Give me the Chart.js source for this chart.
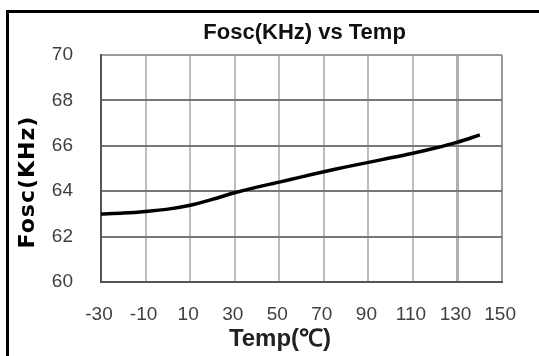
<!DOCTYPE html>
<html>
<head>
<meta charset="utf-8">
<script src="https://cdn.jsdelivr.net/npm/chart.js@4/dist/chart.umd.min.js"></script>
<style>
  html, body { margin: 0; padding: 0; background: #ffffff; }
  canvas { display: block; }
</style>
</head>
<body>
<canvas id="c" width="539" height="356"></canvas>
<script>
// ---- data ----
const chartTitle = "Fosc(KHz) vs Temp";
const xTitle = "Temp(\u2103)";
const yTitle = "Fosc(KHz)";
const temps = [-30, -20, -10, 0, 10, 20, 30, 40, 50, 60, 70, 80, 90, 100, 110, 120, 130, 140];
const fosc  = [63.0, 63.04, 63.11, 63.21, 63.38, 63.64, 63.93, 64.18, 64.4, 64.63, 64.86, 65.07, 65.27, 65.47, 65.67, 65.9, 66.16, 66.48];
const xTicks = [-30, -10, 10, 30, 50, 70, 90, 110, 130, 150];
const yTicks = [60, 62, 64, 66, 68, 70];

const points = temps.map((t, i) => ({ x: t, y: fosc[i] }));

const decor = {
  id: 'decor',
  afterDraw(chart) {
    const ctx = chart.ctx;
    const a = chart.chartArea;
    ctx.save();
    // outer frame (top and left edges visible)
    ctx.strokeStyle = '#000';
    ctx.lineWidth = 3;
    ctx.beginPath();
    ctx.moveTo(539, 11.5);
    ctx.lineTo(7.5, 11.5);
    ctx.lineTo(7.5, 356);
    ctx.stroke();
    // chart title
    ctx.fillStyle = '#111';
    ctx.font = 'bold 22px "Liberation Sans", Arial, sans-serif';
    ctx.textAlign = 'center';
    ctx.textBaseline = 'alphabetic';
    ctx.fillText(chartTitle, (a.left + a.right) / 2 + 3, 39);
    // x axis title
    ctx.font = 'bold 24px "Liberation Sans", Arial, sans-serif';
    ctx.fillStyle = '#222';
    ctx.fillText(xTitle, 280, 346);
    // y axis title
    ctx.translate(34, 182);
    ctx.rotate(-Math.PI / 2);
    ctx.font = 'bold 22px "DejaVu Sans", sans-serif';
    if ('letterSpacing' in ctx) ctx.letterSpacing = '1px';
    ctx.fillStyle = '#000';
    ctx.textBaseline = 'alphabetic';
    ctx.fillText(yTitle, 0, 0);
    ctx.restore();
  }
};

new Chart(document.getElementById('c'), {
  type: 'line',
  data: {
    datasets: [{
      data: points,
      borderColor: '#000',
      borderWidth: 3.5,
      pointRadius: 0,
      fill: false,
      tension: 0.3
    }]
  },
  options: {
    responsive: false,
    animation: false,
    devicePixelRatio: 1,
    layout: { padding: { top: 55, right: 27, bottom: 0, left: 0 } },
    plugins: { legend: { display: false }, title: { display: false }, tooltip: { enabled: false } },
    scales: {
      x: {
        type: 'linear',
        min: -30, max: 150,
        afterFit: (s) => { s.height = 74; },
        afterBuildTicks: (s) => { s.ticks = xTicks.map(v => ({ value: v })); },
        ticks: {
          padding: 21,
          labelOffset: -2,
          color: '#404040',
          font: { family: '"Liberation Sans", Arial, sans-serif', size: 19 }
        },
        grid: {
          drawTicks: false,
          lineWidth: (c) => (c.tick && c.tick.value === 130) ? 3 : 2,
          color: (c) => (c.tick && c.tick.value === 150) ? '#9a9a9a' : (c.tick && c.tick.value === 130 ? '#b0b0b0' : '#bdbdbd')
        },
        border: { display: true, color: '#555', width: 2 }
      },
      y: {
        min: 60, max: 70,
        afterFit: (s) => { s.width = 101; },
        afterBuildTicks: (s) => { s.ticks = yTicks.map(v => ({ value: v })); },
        ticks: {
          padding: 28,
          color: '#404040',
          font: { family: '"Liberation Sans", Arial, sans-serif', size: 19 }
        },
        grid: {
          drawTicks: false,
          lineWidth: 2,
          color: (c) => (c.tick && c.tick.value === 70) ? '#9a9a9a' : '#777777'
        },
        border: { display: true, color: '#555', width: 2 }
      }
    }
  },
  plugins: [decor]
});
</script>
</body>
</html>
